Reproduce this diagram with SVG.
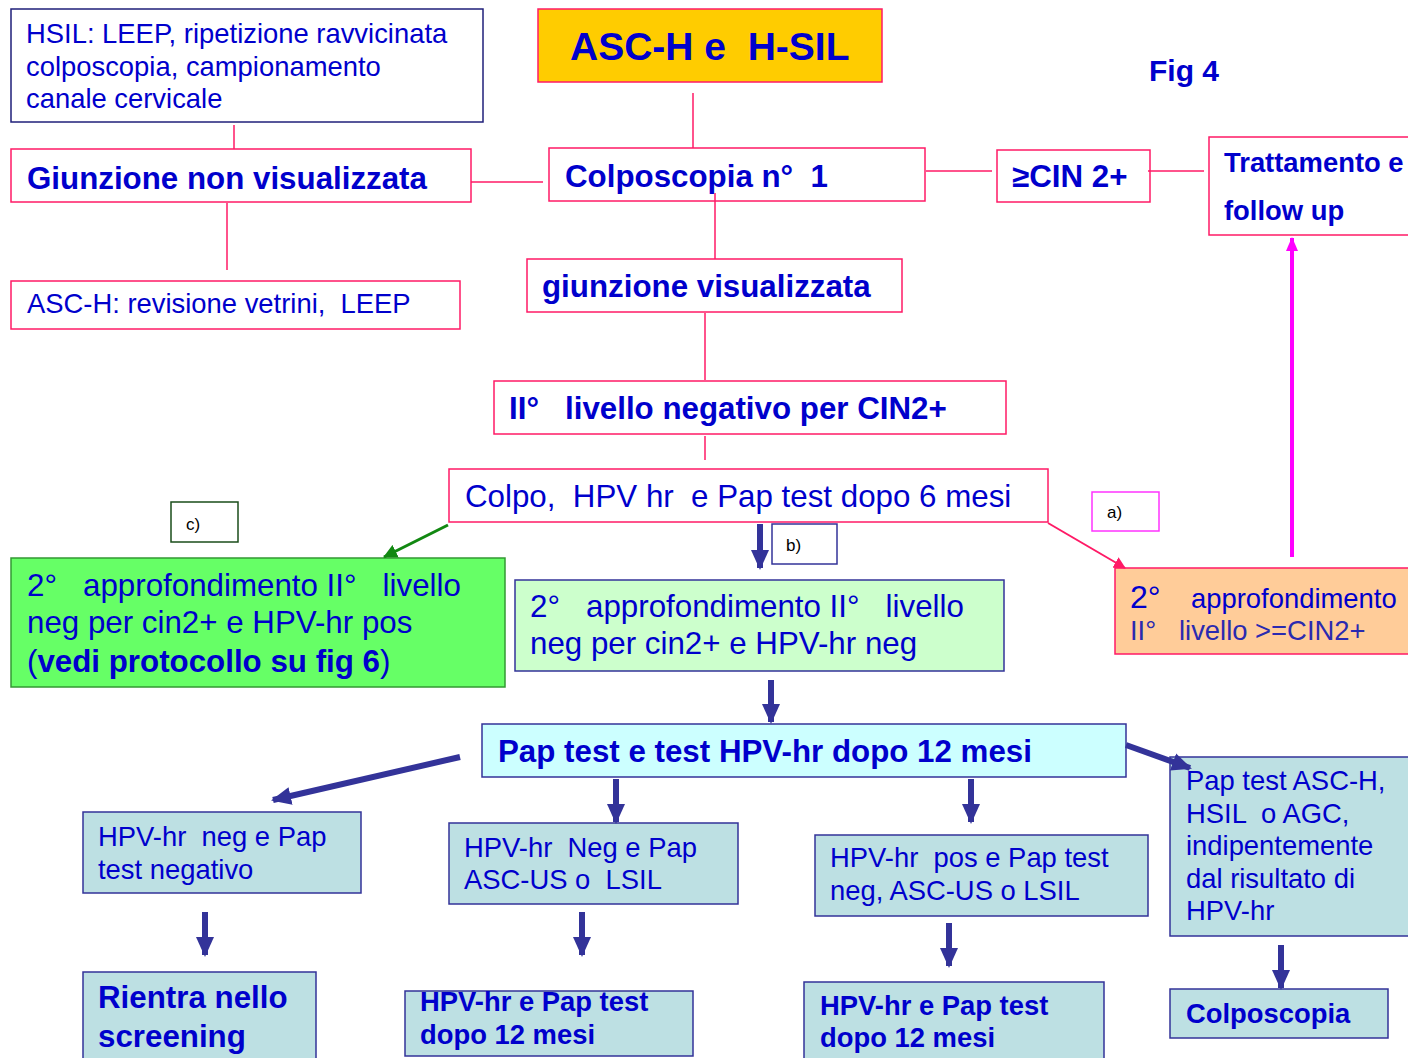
<svg xmlns="http://www.w3.org/2000/svg" width="1408" height="1058" viewBox="0 0 1408 1058">
<defs>
<style>
text { font-family: "Liberation Sans", Arial, sans-serif; fill: #0000cc; white-space: pre; }
.b { font-weight: bold; }
.f31 { font-size: 31.3px; }
.f27 { font-size: 27.4px; }
.f17 { font-size: 17px; fill: #000000; }
.pk { fill: #ffffff; stroke: #ff1a66; stroke-width: 1.5; }
.nv { fill: #ffffff; stroke: #1f1f7a; stroke-width: 1.5; }
.tl { fill: #bde0e3; stroke: #333399; stroke-width: 1.5; }
.ln { stroke: #ff1a66; stroke-width: 1.5; fill: none; }
.ba { stroke: #333399; stroke-width: 6; fill: none; }
</style>
<marker id="mb" markerUnits="userSpaceOnUse" markerWidth="20" markerHeight="20" viewBox="0 0 20 20" refX="18" refY="10" orient="auto">
<path d="M0,1 L20,10 L0,19 Z" fill="#333399"/>
</marker>
<marker id="mg" markerUnits="userSpaceOnUse" markerWidth="14" markerHeight="14" viewBox="0 0 14 14" refX="13" refY="7" orient="auto">
<path d="M0,0 L14,7 L0,14 Z" fill="#118811"/>
</marker>
<marker id="mp" markerUnits="userSpaceOnUse" markerWidth="12" markerHeight="12" viewBox="0 0 12 12" refX="11" refY="6" orient="auto">
<path d="M0,0 L12,6 L0,12 Z" fill="#ff1a66"/>
</marker>
<marker id="mm" markerUnits="userSpaceOnUse" markerWidth="14" markerHeight="12" viewBox="0 0 14 12" refX="13" refY="6" orient="auto">
<path d="M0,0 L14,6 L0,12 Z" fill="#ff00ff"/>
</marker>
</defs>
<rect width="1408" height="1058" fill="#ffffff"/>

<g id="n-hsil">
<rect class="nv" x="11" y="9" width="472" height="113"/>
<text class="f27" x="26" y="43">HSIL: LEEP, ripetizione ravvicinata</text>
<text class="f27" x="26" y="76">colposcopia, campionamento</text>
<text class="f27" x="26" y="108">canale cervicale</text>
</g>

<g id="n-title">
<rect x="538" y="9" width="344" height="73" fill="#ffcc00" stroke="#ff1a66" stroke-width="1.5"/>
<text class="b" x="570" y="60" font-size="39">ASC-H e  H-SIL</text>
</g>

<g id="n-fig">
<text class="b" x="1149" y="81" font-size="30">Fig 4</text>
</g>

<g id="n-giunz-non">
<rect class="pk" x="11" y="149" width="460" height="53"/>
<text class="b f31" x="27" y="189">Giunzione non visualizzata</text>
</g>

<g id="n-colpo1">
<rect class="pk" x="549" y="148" width="376" height="53"/>
<text class="b f31" x="565" y="187">Colposcopia n°  1</text>
</g>

<g id="n-cin">
<rect class="pk" x="997" y="150" width="153" height="52"/>
<text class="b f31" x="1012" y="187">≥CIN 2+</text>
</g>

<g id="n-tratt">
<rect class="pk" x="1209" y="137" width="220" height="98"/>
<text class="b f27" x="1224" y="172">Trattamento e</text>
<text class="b f27" x="1224" y="220">follow up</text>
</g>

<g id="n-asch">
<rect class="pk" x="11" y="281" width="449" height="48"/>
<text class="f27" x="27" y="313">ASC-H: revisione vetrini,  LEEP</text>
</g>

<g id="n-giunz-vis">
<rect class="pk" x="527" y="259" width="375" height="53"/>
<text class="b f31" x="542" y="297">giunzione visualizzata</text>
</g>

<g id="n-II">
<rect class="pk" x="494" y="381" width="512" height="53"/>
<text class="b f31" x="509" y="419">II°   livello negativo per CIN2+</text>
</g>

<g id="n-colpo6">
<rect class="pk" x="449" y="469" width="599" height="53"/>
<text class="f31" x="465" y="507">Colpo,  HPV hr  e Pap test dopo 6 mesi</text>
</g>

<g id="n-a">
<rect x="1092" y="492" width="67" height="39" fill="#ffffff" stroke="#ff33ff" stroke-width="1.5"/>
<text class="f17" x="1107" y="518">a)</text>
</g>

<g id="n-b">
<rect x="772" y="524" width="65" height="40" fill="#ffffff" stroke="#333399" stroke-width="1.5"/>
<text class="f17" x="786" y="551">b)</text>
</g>

<g id="n-c">
<rect x="171" y="502" width="67" height="40" fill="#ffffff" stroke="#1a4d1a" stroke-width="1.5"/>
<text class="f17" x="186" y="530">c)</text>
</g>

<g id="n-green">
<rect x="11" y="558" width="494" height="129" fill="#66ff66" stroke="#339933" stroke-width="1.5"/>
<text class="f31" x="27" y="596">2°   approfondimento II°   livello</text>
<text class="f31" x="27" y="633">neg per cin2+ e HPV-hr pos</text>
<text class="f31" x="27" y="672">(<tspan class="b">vedi protocollo su fig 6</tspan>)</text>
</g>

<g id="n-lightgreen">
<rect x="515" y="580" width="489" height="91" fill="#ccffcc" stroke="#333399" stroke-width="1.5"/>
<text class="f31" x="530" y="617">2°   approfondimento II°   livello</text>
<text class="f31" x="530" y="654">neg per cin2+ e HPV-hr neg</text>
</g>

<g id="n-orange">
<rect x="1115" y="568" width="320" height="86" fill="#ffcc99" stroke="#ff1a66" stroke-width="1.5"/>
<text x="1130" y="608"><tspan font-size="32">2°</tspan><tspan class="f27">    approfondimento</tspan></text>
<text class="f27" x="1130" y="640" style="fill:#2a2ab0">II°   livello &gt;=CIN2+</text>
</g>

<g id="n-paptest">
<rect x="482" y="724" width="644" height="53" fill="#ccffff" stroke="#333399" stroke-width="1.5"/>
<text class="b f31" x="498" y="762">Pap test e test HPV-hr dopo 12 mesi</text>
</g>

<g id="n-negneg">
<rect class="tl" x="83" y="812" width="278" height="81"/>
<text class="f27" x="98" y="846">HPV-hr  neg e Pap</text>
<text class="f27" x="98" y="879">test negativo</text>
</g>

<g id="n-negasc">
<rect class="tl" x="449" y="823" width="289" height="81"/>
<text class="f27" x="464" y="857">HPV-hr  Neg e Pap</text>
<text class="f27" x="464" y="889">ASC-US o  LSIL</text>
</g>

<g id="n-posneg">
<rect class="tl" x="815" y="835" width="333" height="81"/>
<text class="f27" x="830" y="867">HPV-hr  pos e Pap test</text>
<text class="f27" x="830" y="900">neg, ASC-US o LSIL</text>
</g>

<g id="n-asch2">
<rect class="tl" x="1170" y="757" width="260" height="179"/>
<text class="f27" x="1186" y="790">Pap test ASC-H,</text>
<text class="f27" x="1186" y="823">HSIL  o AGC,</text>
<text class="f27" x="1186" y="855">indipentemente</text>
<text class="f27" x="1186" y="888">dal risultato di</text>
<text class="f27" x="1186" y="920">HPV-hr</text>
</g>

<g id="n-rientra">
<rect class="tl" x="83" y="972" width="233" height="110"/>
<text class="b f31" x="98" y="1008">Rientra nello</text>
<text class="b f31" x="98" y="1047">screening</text>
</g>

<g id="n-hpvpap1">
<rect class="tl" x="405" y="991" width="288" height="65"/>
<text class="b f27" x="420" y="1011">HPV-hr e Pap test</text>
<text class="b f27" x="420" y="1044">dopo 12 mesi</text>
</g>

<g id="n-hpvpap2">
<rect class="tl" x="804" y="982" width="300" height="100"/>
<text class="b f27" x="820" y="1015">HPV-hr e Pap test</text>
<text class="b f27" x="820" y="1047">dopo 12 mesi</text>
</g>

<g id="n-colposcopia">
<rect class="tl" x="1170" y="989" width="218" height="49"/>
<text class="b f27" x="1186" y="1023">Colposcopia</text>
</g>

<g id="connectors">
<line class="ln" x1="234" y1="125" x2="234" y2="149"/>
<line class="ln" x1="227" y1="203" x2="227" y2="270"/>
<line class="ln" x1="471" y1="182" x2="543" y2="182"/>
<line class="ln" x1="693" y1="93" x2="693" y2="148"/>
<line class="ln" x1="715" y1="193" x2="715" y2="259"/>
<line class="ln" x1="926" y1="171" x2="992" y2="171"/>
<line class="ln" x1="1148" y1="171" x2="1204" y2="171"/>
<line class="ln" x1="705" y1="313" x2="705" y2="380"/>
<line class="ln" x1="705" y1="436" x2="705" y2="460"/>
<line x1="1048" y1="523" x2="1125" y2="568" stroke="#ff1a66" stroke-width="2" marker-end="url(#mp)"/>
<line x1="448" y1="525" x2="384" y2="557" stroke="#118811" stroke-width="3" marker-end="url(#mg)"/>
<line x1="1292" y1="557" x2="1292" y2="238" stroke="#ff00ff" stroke-width="4" marker-end="url(#mm)"/>
<line class="ba" x1="760" y1="524" x2="760" y2="568" marker-end="url(#mb)"/>
<line class="ba" x1="771" y1="680" x2="771" y2="722" marker-end="url(#mb)"/>
<line class="ba" x1="460" y1="757" x2="273" y2="800" marker-end="url(#mb)"/>
<line class="ba" x1="616" y1="779" x2="616" y2="822" marker-end="url(#mb)"/>
<line class="ba" x1="971" y1="779" x2="971" y2="822" marker-end="url(#mb)"/>
<line class="ba" x1="1126" y1="745" x2="1190" y2="768" marker-end="url(#mb)"/>
<line class="ba" x1="205" y1="912" x2="205" y2="955" marker-end="url(#mb)"/>
<line class="ba" x1="582" y1="912" x2="582" y2="955" marker-end="url(#mb)"/>
<line class="ba" x1="949" y1="923" x2="949" y2="966" marker-end="url(#mb)"/>
<line class="ba" x1="1281" y1="945" x2="1281" y2="988" marker-end="url(#mb)"/>
</g>
</svg>
